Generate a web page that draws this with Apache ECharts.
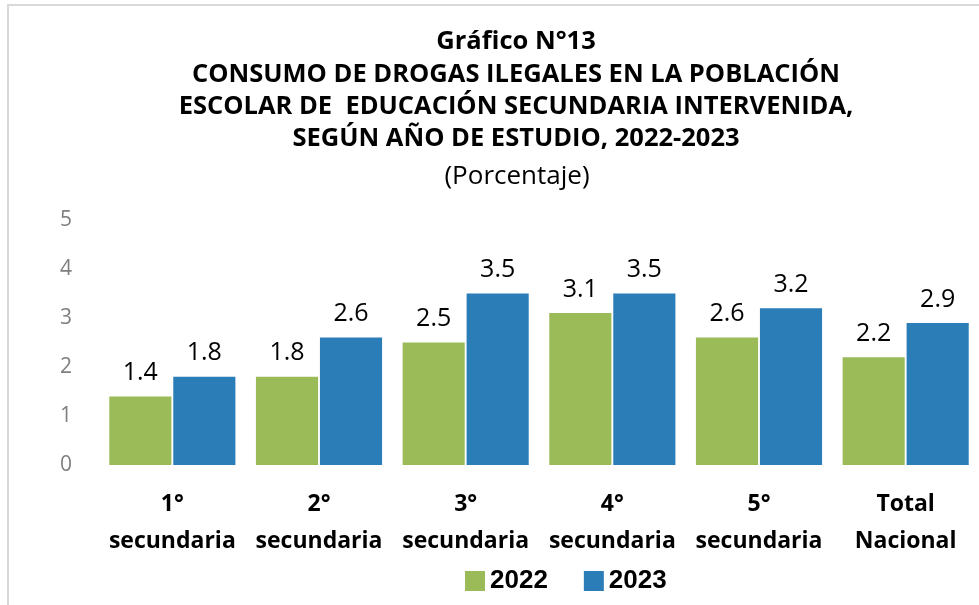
<!DOCTYPE html>
<html><head><meta charset="utf-8">
<script src="https://cdn.jsdelivr.net/npm/echarts@6/dist/echarts.min.js"></script>
<style>html,body{margin:0;padding:0;background:#fff}#c{width:979px;height:605px}</style>
</head><body><div id="c"></div>
<script>
const categories = ['1°\nsecundaria','2°\nsecundaria','3°\nsecundaria','4°\nsecundaria','5°\nsecundaria','Total\nNacional'];
const seriesNames = ['2022','2023'];
const values2022 = [1.4, 1.8, 2.5, 3.1, 2.6, 2.2];
const values2023 = [1.8, 2.6, 3.5, 3.5, 3.2, 2.9];
const yTicks = [0,1,2,3,4,5];
const titleLines = ['Gráfico N°13','CONSUMO DE DROGAS ILEGALES EN LA POBLACIÓN','ESCOLAR DE  EDUCACIÓN SECUNDARIA INTERVENIDA,','SEGÚN AÑO DE ESTUDIO, 2022-2023'];
const subtitle = '(Porcentaje)';

const chart = echarts.init(document.getElementById('c'), null, {renderer:'canvas'});
const labelStyle = {show:true, position:'top', distance:11, color:'#000', fontSize:25, fontFamily:'Open Sans', formatter:p=>p.value.toFixed(1)};
chart.setOption({
  animation:false,
  graphic:[{type:'polyline', shape:{points:[[8,605],[8,5],[979,5]]}, style:{stroke:'#D9D9D9', lineWidth:2, fill:null}}],
  title:[{text:titleLines.join('\n'), left:511, top:21, textAlign:'center',
    textStyle:{fontFamily:'Open Sans', fontWeight:'bold', fontSize:25.5, lineHeight:32.3, color:'#000'}},
    {text:subtitle, left:512, top:159, textAlign:'center', textStyle:{fontFamily:'Open Sans', fontWeight:'normal', fontSize:26, color:'#000'}}],
  legend:{data:seriesNames, bottom:6, left:460, itemWidth:20, itemHeight:20, itemGap:36,
    textStyle:{fontFamily:'Liberation Sans', fontWeight:'bold', fontSize:26, color:'#000'}, icon:'rect'},
  grid:{left:99, right:0, top:220, bottom:140},
  xAxis:{type:'category', data:categories, axisLine:{show:false}, axisTick:{show:false},
    axisLabel:{fontFamily:'Open Sans', fontWeight:'bold', fontSize:23, color:'#000', lineHeight:37, margin:21, interval:0}},
  yAxis:{type:'value', min:0, max:5, interval:1, splitLine:{show:false}, axisLine:{show:false}, axisTick:{show:false},
    axisLabel:{fontFamily:'Open Sans', fontSize:21, color:'#7F7F7F', margin:27}},
  series:[
    {name:seriesNames[0], type:'bar', data:values2022, itemStyle:{color:'#9BBB59'}, barGap:'3%', barCategoryGap:'14%', label:labelStyle},
    {name:seriesNames[1], type:'bar', data:values2023, itemStyle:{color:'#2B7DB8'}, barGap:'3%', barCategoryGap:'14%', label:labelStyle}
  ]
});
</script></body></html>
